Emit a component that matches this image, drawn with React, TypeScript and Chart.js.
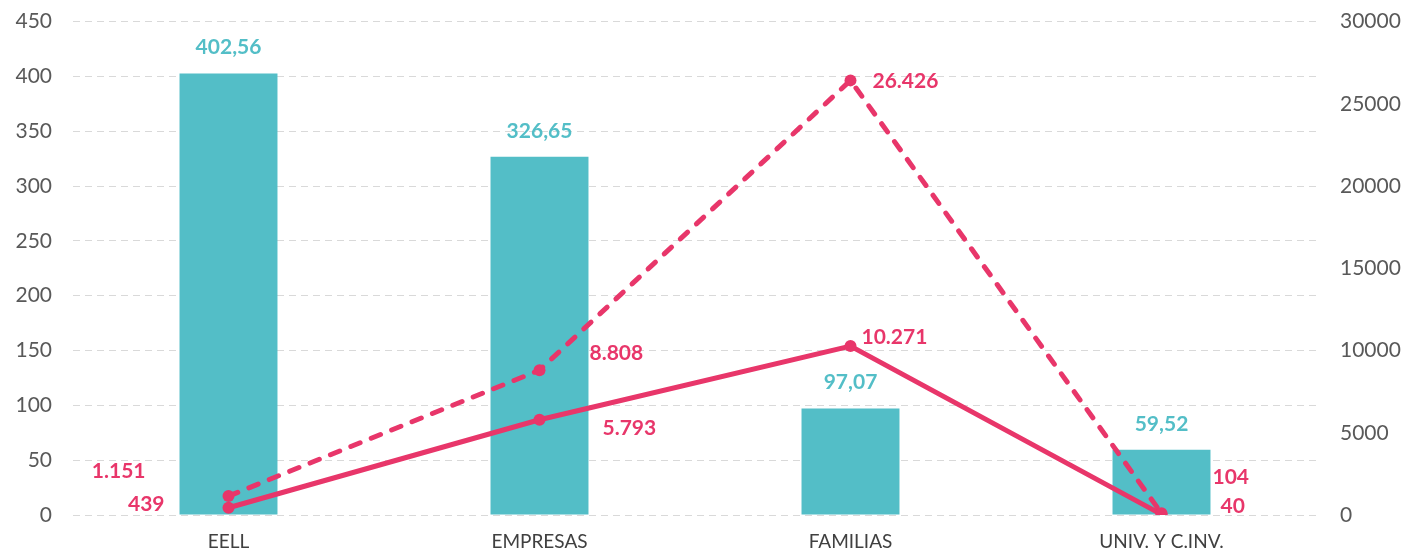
import React, { useEffect, useRef } from "react";
import { Chart, registerables } from "chart.js";

Chart.register(...registerables);

const categories = ["EELL", "EMPRESAS", "FAMILIAS", "UNIV. Y C.INV."];
const barValues = [402.56, 326.65, 97.07, 59.52];
const solidValues = [439, 5793, 10271, 40];
const dashedValues = [1151, 8808, 26426, 104];
const leftTicks = [0, 50, 100, 150, 200, 250, 300, 350, 400, 450];
const rightTicks = [0, 5000, 10000, 15000, 20000, 25000, 30000];

const TEAL = "#53BEC7";
const PINK = "#E8366A";
const FONT = "Lato, 'Open Sans', sans-serif";

// label offsets [dx, dy, align] per point
const solidLabelPos: [number, number, CanvasTextAlign][] = [
  [-64, -4, "right"],
  [63, 9, "left"],
  [11, -9, "left"],
  [59, -8, "left"],
];
const dashedLabelPos: [number, number, CanvasTextAlign][] = [
  [-83, -25, "right"],
  [50, -17, "left"],
  [22, 1, "left"],
  [51, -36, "left"],
];

const fmtBar = (v: number) => v.toFixed(2).replace(".", ",");
const fmtInt = (v: number) =>
  Math.round(v)
    .toString()
    .replace(/\B(?=(\d{3})+(?!\d))/g, ".");

const labelPlugin = {
  id: "customLabels",
  afterDatasetsDraw(chart: any) {
    const ctx = chart.ctx;
    ctx.save();
    ctx.font = `bold 21px ${FONT}`;
    ctx.textBaseline = "middle";
    chart.data.datasets.forEach((ds: any, di: number) => {
      const meta = chart.getDatasetMeta(di);
      meta.data.forEach((el: any, i: number) => {
        const v = ds.data[i];
        if (ds.type === "bar") {
          ctx.fillStyle = TEAL;
          ctx.textAlign = "center";
          ctx.fillText(fmtBar(v), el.x, el.y - 26);
        } else {
          const pos = ds.dashed ? dashedLabelPos[i] : solidLabelPos[i];
          ctx.fillStyle = PINK;
          ctx.textAlign = pos[2];
          ctx.fillText(fmtInt(v), el.x + pos[0], el.y + pos[1]);
        }
      });
    });
    ctx.restore();
  },
};

export default function App() {
  const ref = useRef<HTMLCanvasElement>(null);
  useEffect(() => {
    document.body.style.margin = "0";
    const chart = new Chart(ref.current!, {
      type: "bar",
      data: {
        labels: categories,
        datasets: [
          {
            type: "line",
            data: dashedValues,
            yAxisID: "y1",
            borderColor: PINK,
            backgroundColor: PINK,
            borderWidth: 5,
            borderDash: [10, 12],
            borderCapStyle: "round",
            pointRadius: 6,
            pointBackgroundColor: PINK,
            pointBorderColor: PINK,
            pointBorderWidth: 0,
            order: 1,
            dashed: true,
          } as any,
          {
            type: "line",
            data: solidValues,
            yAxisID: "y1",
            borderColor: PINK,
            backgroundColor: PINK,
            borderWidth: 5,
            pointRadius: 6,
            pointBackgroundColor: PINK,
            pointBorderColor: PINK,
            pointBorderWidth: 0,
            order: 2,
          } as any,
          {
            type: "bar",
            data: barValues,
            yAxisID: "y",
            backgroundColor: TEAL,
            categoryPercentage: 1,
            barPercentage: 0.315,
            order: 3,
          } as any,
        ],
      },
      options: {
        animation: false,
        responsive: false,
        maintainAspectRatio: false,
        layout: { padding: { top: 6, left: 0, right: 0, bottom: 0 } },
        plugins: {
          legend: { display: false },
          tooltip: { enabled: false },
        },
        scales: {
          x: {
            grid: { display: false, drawTicks: false },
            border: { display: false },
            ticks: {
              color: "#404040",
              font: { family: FONT, size: 19 },
              padding: 15,
              maxRotation: 0,
            },
            afterFit: (s: any) => {
              s.height = 36;
            },
          },
          y: {
            position: "left",
            min: 0,
            max: 450,
            afterBuildTicks: (s: any) => {
              s.ticks = leftTicks.map((v) => ({ value: v }));
            },
            grid: { color: "#D9D9D9", lineWidth: 1, drawTicks: false },
            border: { display: false, dash: [7, 5] },
            ticks: {
              color: "#595959",
              font: { family: FONT, size: 21 },
              padding: 21,
            },
            afterFit: (s: any) => {
              s.width = 73;
            },
          },
          y1: {
            position: "right",
            min: 0,
            max: 30000,
            afterBuildTicks: (s: any) => {
              s.ticks = rightTicks.map((v) => ({ value: v }));
            },
            grid: { display: false, drawTicks: false },
            border: { display: false },
            ticks: {
              color: "#595959",
              font: { family: FONT, size: 21 },
              padding: 23,
              callback: (v: any) => String(v),
            },
            afterFit: (s: any) => {
              s.width = 86;
            },
          },
        },
      } as any,
      plugins: [labelPlugin],
    });
    return () => chart.destroy();
  }, []);
  return (
    <div style={{ width: 1403, height: 551, overflow: "hidden" }}>
      <canvas
        ref={ref}
        width={1403}
        height={565}
        style={{ display: "block", position: "relative", top: -14 }}
      />
    </div>
  );
}
